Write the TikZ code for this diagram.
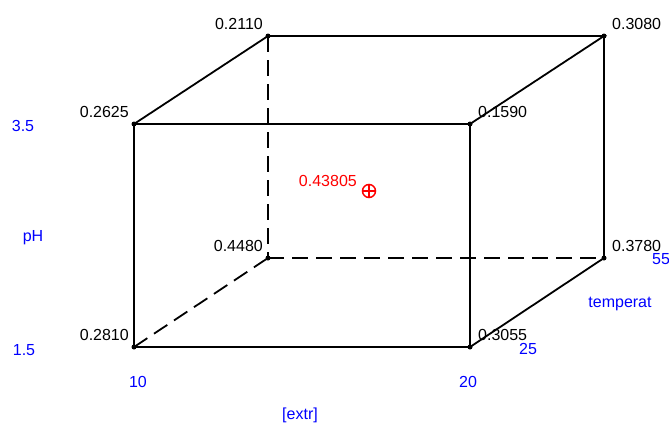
\documentclass[tikz,border=0pt]{standalone}
\usepackage{fontspec}
\setmainfont{Liberation Sans}
\usetikzlibrary{positioning}
\definecolor{cbAxis}{HTML}{0000FF}
\definecolor{cbCenter}{HTML}{FF0000}
\tikzset{
  edge/.style={line width=1.8pt, black},
  hidden/.style={edge, dash pattern=on 16pt off 8pt},
  vdot/.style={circle, fill=black, inner sep=0pt, minimum size=5pt},
  vlab/.style={font=\fontsize{16}{16}\selectfont, inner sep=0pt, text=black},
  vlabl/.style={vlab, anchor=base east, xshift=-5pt, yshift=7pt},
  vlabr/.style={vlab, anchor=base west, xshift=8pt, yshift=7pt},
  axlab/.style={font=\fontsize{16}{16}\selectfont, inner sep=0pt, text=cbAxis},
  ctrlab/.style={font=\fontsize{16}{16}\selectfont, inner sep=0pt, text=cbCenter},
  ctrmark/.style={circle, draw=cbCenter, line width=1.5pt, minimum size=13pt, inner sep=0pt}
}

\begin{document}
\begin{tikzpicture}[x=1pt, y=-1pt]
  \useasboundingbox (0,0) rectangle (669,426);
  % corners of the design cube
  \node[vdot] (fbl) at (134,347) {};
  \node[vdot] (fbr) at (470,347) {};
  \node[vdot] (ftl) at (134,124) {};
  \node[vdot] (ftr) at (470,124) {};
  \node[vdot] (bbl) at (268,258) {};
  \node[vdot] (bbr) at (604,258) {};
  \node[vdot] (btl) at (268,36) {};
  \node[vdot] (btr) at (604,36) {};

  % visible edges
  \draw[edge] (fbl.center) -- (fbr.center) -- (ftr.center) -- (ftl.center) -- cycle;
  \draw[edge] (ftl.center) -- (btl.center) -- (btr.center) -- (ftr.center);
  \draw[edge] (btr.center) -- (bbr.center) -- (fbr.center);
  % hidden edges
  \draw[hidden] (btl.center) -- (bbl.center);
  \draw[hidden] (bbl.center) -- (bbr.center);
  \draw[hidden] (fbl.center) -- (bbl.center);

  % corner values
  \node[vlabl] (v2625) at (ftl) {0.2625};
  \node[vlabl] (v2810) at (fbl) {0.2810};
  \node[vlabl] (v2110) at (btl) {0.2110};
  \node[vlabl] (v4480) at (bbl) {0.4480};
  \node[vlabr] (v1590) at (ftr) {0.1590};
  \node[vlabr] (v3055) at (fbr) {0.3055};
  \node[vlabr] (v3080) at (btr) {0.3080};
  \node[vlabr] (v3780) at (bbr) {0.3780};

  % centre point
  \node[ctrmark] (ctr) at (369,191) {};
  \draw[cbCenter, line width=1.5pt] (ctr.north) -- (ctr.south) (ctr.west) -- (ctr.east);
  \node[ctrlab, anchor=base east] (ctrval) at (357,186) {0.43805};

  % axis labels
  \node[axlab] (ph35) at (23,126) {3.5};
  \node[axlab] (phname) at (33,238) {pH};
  \node[axlab] (ph15) at (24,350) {1.5};
  \node[axlab] (ex10) at (138,382) {10};
  \node[axlab] (ex20) at (468,382) {20};
  \node[axlab] (exname) at (300,415) {[extr]};
  \node[axlab] (te25) at (528,349) {25};
  \node[axlab, anchor=west] (te55) at (652,259) {55};
  \node[axlab] (tename) at (620,304) {temperat};
\end{tikzpicture}
\end{document}
